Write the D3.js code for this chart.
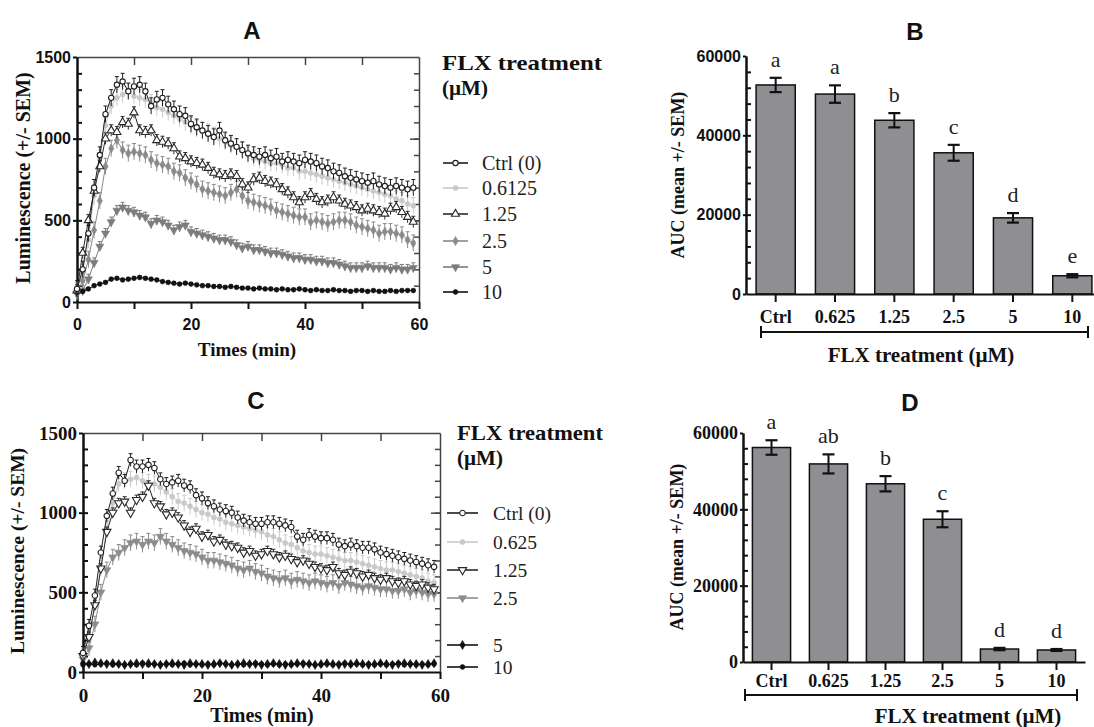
<!DOCTYPE html>
<html>
<head>
<meta charset="utf-8">
<script src="https://cdn.jsdelivr.net/npm/d3@7"></script>
<style>
  body { margin: 0; background: #fff; }
  svg { display: block; }
</style>
</head>
<body>
<svg id="fig" width="1094" height="727"></svg>
<script>
// ---- data (1 point per minute) ----
const timeMin = d3.range(0, 60);

// panel A, luminescence
const aCtrl = [80,200,420,700,900,1150,1250,1330,1350,1290, 1320,1330,1290,1200,1240,1250,1210,1180,1150,1140,
               1090,1070,1050,1030,1010,1050,990,970,950,930, 910,900,890,900,880,890,860,870,860,850,
               870,860,850,830,820,800,790,770,760,750, 740,730,740,720,710,700,710,700,690,700];
const a0612 = [70,180,380,650,880,1080,1200,1250,1270,1290, 1260,1250,1240,1220,1190,1180,1160,1140,1120,1100,
               1080,1060,1050,1040,1020,1000,980,960,950,930, 900,880,870,860,850,850,840,820,820,800,
               800,790,780,770,760,750,740,730,720,710, 700,690,680,670,660,650,630,620,600,590];
const a125  = [70,300,500,680,830,1000,1050,1040,1100,1090, 1160,1050,1040,1050,990,980,970,940,890,880,
               860,850,840,820,790,780,770,780,770,720, 700,750,760,740,730,720,690,670,640,610,
               640,660,630,610,620,640,620,600,590,580, 560,570,560,550,540,570,580,550,520,490];
const a25   = [60,130,260,440,620,830,940,990,930,910, 920,910,900,870,850,840,830,800,790,760,
               740,720,690,680,670,660,650,670,690,650, 620,610,600,590,580,560,550,540,530,520,
               520,490,500,490,480,490,500,500,490,470, 460,450,440,420,430,430,420,410,380,360];
const a5    = [50,70,140,240,340,420,490,560,580,560, 550,530,520,480,500,490,470,440,460,470,
               430,420,410,400,390,380,380,370,350,330, 340,320,320,310,300,300,290,280,270,270,
               260,260,250,250,240,240,230,220,210,210, 210,220,210,210,210,200,210,200,200,210];
const a10   = [60,65,80,100,110,120,140,145,135,140, 145,150,145,140,135,125,120,115,110,115,
               110,105,100,100,95,95,90,95,90,85, 85,80,85,80,80,75,80,75,75,80,
               75,70,75,70,70,75,70,70,65,70, 70,65,70,65,65,70,65,70,70,70];
const aSem  = [50, 50, 35, 50, 30, 8];

// panel C, luminescence
const cCtrl = [120,290,480,750,980,1120,1250,1200,1330,1290, 1290,1300,1280,1210,1180,1190,1200,1170,1160,1110,
               1090,1060,1040,1020,1010,1000,970,950,940,930, 930,940,940,930,920,910,850,830,860,850,
               840,840,830,800,790,800,790,780,780,770, 750,740,730,720,710,700,690,680,670,660];
const c0625 = [100,230,420,650,900,1060,1180,1200,1210,1220, 1200,1190,1180,1160,1130,1100,1070,1060,1040,1020,
               1000,990,970,960,940,930,920,910,900,890, 880,860,850,830,810,800,780,760,750,740,
               740,730,720,710,700,700,690,680,670,660, 650,640,640,630,620,610,600,590,570,560];
const c125  = [100,220,420,650,880,1000,1060,1070,1000,1080, 1100,1170,1060,1040,990,1000,970,920,880,900,
               850,860,820,830,800,790,780,750,760,730, 740,760,740,720,730,710,690,700,680,660,
               650,640,660,620,610,630,620,600,610,590, 580,590,570,560,570,550,540,550,530,520];
const c25   = [80,150,300,500,640,720,750,780,810,820, 800,820,810,850,820,800,780,760,750,740,
               720,700,700,690,680,670,650,640,650,630, 620,600,590,580,590,570,580,570,560,570,
               560,550,560,540,560,550,540,530,540,530, 520,520,510,510,520,500,510,500,490,490];
const c5    = [55,50,60,55,50,55,50,45,50,55, 50,55,50,45,50,55,50,45,55,50, 50,45,50,55,50,45,50,55,50,50,
               45,50,55,50,45,50,55,50,50,45, 50,55,50,45,50,50,55,50,45,50, 55,50,45,50,55,50,50,45,50,55];
const c10   = [45,50,45,50,55,45,50,45,50,45, 55,45,50,45,50,45,50,55,45,50, 45,50,45,55,50,45,50,45,50,55,
               50,45,50,45,50,45,50,55,50,45, 45,50,45,50,55,45,50,45,50,45, 50,45,50,55,45,50,45,50,45,50];
const cSem  = [40, 50, 30, 50, 6, 6];

const aLabels = ["Ctrl (0)", "0.6125", "1.25", "2.5", "5", "10"];
const cLabels = ["Ctrl (0)", "0.625", "1.25", "2.5", "5", "10"];

// panels B and D, AUC
const barCats   = ["Ctrl", "0.625", "1.25", "2.5", "5", "10"];
const bMean     = [52700, 50400, 43800, 35600, 19200, 4600];
const bSem      = [1800, 2200, 1800, 2000, 1200, 400];
const bLetters  = ["a", "a", "b", "c", "d", "e"];
const dMean     = [56200, 51900, 46700, 37400, 3400, 3150];
const dSem      = [1900, 2500, 2000, 2100, 300, 250];
const dLetters  = ["a", "ab", "b", "c", "d", "d"];

const serif = "'Liberation Serif', 'Times New Roman', serif";
const sans = "'Liberation Sans', Arial, sans-serif";

const svg = d3.select("#fig");

// marker styles per series (index matches the data order)
const styleA = [
  {color:"#1e1e1e", sym:d3.symbolCircle,   size:22, open:true,  rot:0},
  {color:"#c9c9c9", sym:d3.symbolCircle,   size:20, open:false, rot:0},
  {color:"#2a2a2a", sym:d3.symbolTriangle, size:28, open:true,  rot:0},
  {color:"#8a8a8a", sym:d3.symbolDiamond,  size:24, open:false, rot:0},
  {color:"#7c7c7c", sym:d3.symbolTriangle, size:28, open:false, rot:180},
  {color:"#111111", sym:d3.symbolCircle,   size:18, open:false, rot:0}
];
const styleC = [
  {color:"#1e1e1e", sym:d3.symbolCircle,   size:24, open:true,  rot:0},
  {color:"#c9c9c9", sym:d3.symbolCircle,   size:20, open:false, rot:0},
  {color:"#2a2a2a", sym:d3.symbolTriangle, size:30, open:true,  rot:180},
  {color:"#8c8c8c", sym:d3.symbolTriangle, size:28, open:false, rot:180},
  {color:"#111111", sym:d3.symbolDiamond,  size:24, open:false, rot:0},
  {color:"#111111", sym:d3.symbolCircle,   size:18, open:false, rot:0}
];

function styleAxis(sel, color, width) {
  sel.selectAll("path, line").attr("stroke", color).attr("stroke-width", width);
}

function marker(sel, st) {
  sel.attr("d", d3.symbol().type(st.sym).size(st.size)())
     .attr("fill", st.open ? "#fff" : st.color)
     .attr("stroke", st.color)
     .attr("stroke-width", st.open ? 1.1 : 0.6);
}

function drawTimePanel(cfg, series, sems, styles, labels, order) {
  const g = svg.append("g");
  const x = d3.scaleLinear().domain([0, 60]).range([cfg.x0, cfg.x1]);
  const y = d3.scaleLinear().domain([0, 1500]).range([cfg.yB, cfg.yT]);

  // top frame, ticks pointing down
  g.append("g").attr("transform", `translate(0,${cfg.yT})`)
    .call(d3.axisBottom(x).tickValues(d3.range(10, 60, 10)).tickSize(8).tickSizeOuter(0).tickFormat(""))
    .call(styleAxis, "#444", 1.5);
  // right frame, ticks pointing left
  g.append("g").attr("transform", `translate(${cfg.x1},0)`)
    .call(d3.axisLeft(y).tickValues(d3.range(100, 1500, 100)).tickSize(5).tickSizeOuter(0).tickFormat(""))
    .call(styleAxis, "#444", 1.5);
  g.append("g").attr("transform", `translate(${cfg.x1},0)`)
    .call(d3.axisLeft(y).tickValues([500, 1000]).tickSize(9).tickSizeOuter(0).tickFormat(""))
    .call(a => a.select(".domain").remove())
    .call(styleAxis, "#444", 1.5);

  // left axis
  g.append("g").attr("transform", `translate(${cfg.x0},0)`)
    .call(d3.axisLeft(y).tickValues(d3.range(100, 1500, 100)).tickSize(-5).tickSizeOuter(0).tickFormat(""))
    .call(styleAxis, "#111", 2);
  const yAx = g.append("g").attr("transform", `translate(${cfg.x0},0)`)
    .call(d3.axisLeft(y).tickValues([0, 500, 1000, 1500]).tickSize(4).tickSizeOuter(0)
      .tickPadding(2).tickFormat(d3.format("d")))
    .call(styleAxis, "#111", 2);
  yAx.selectAll("text").attr("font-family", cfg.tickFont).attr("font-weight", "bold")
    .attr("font-size", cfg.tickSize).attr("fill", "#111");

  // bottom axis
  const xAx = g.append("g").attr("transform", `translate(0,${cfg.yB})`)
    .call(d3.axisBottom(x).tickValues(d3.range(0, 61, 10)).tickSize(7).tickSizeOuter(0)
      .tickPadding(cfg.xPad).tickFormat(d => d % 20 === 0 ? d : ""))
    .call(styleAxis, "#111", 2);
  xAx.selectAll("text").attr("font-family", cfg.tickFont).attr("font-weight", "bold")
    .attr("font-size", cfg.tickSize).attr("fill", "#111");

  // axis titles
  g.append("text")
    .attr("transform", `translate(${cfg.yTitleX},${cfg.yTitleY}) rotate(-90)`)
    .attr("text-anchor", "middle").attr("font-family", serif).attr("font-weight", "bold")
    .attr("font-size", cfg.yTitleSize).attr("fill", "#111")
    .text("Luminescence (+/- SEM)");
  g.append("text")
    .attr("x", cfg.xTitleX).attr("y", cfg.xTitleY)
    .attr("text-anchor", "middle").attr("font-family", serif).attr("font-weight", "bold")
    .attr("font-size", cfg.xTitleSize).attr("fill", "#111")
    .text("Times (min)");

  // series
  const line = d3.line().x((d, i) => x(timeMin[i])).y(d => y(d));
  order.forEach(k => {
    const vals = series[k], st = styles[k], sem = sems[k];
    const sg = g.append("g");
    sg.append("path").attr("d", line(vals)).attr("fill", "none")
      .attr("stroke", st.color).attr("stroke-width", 1);
    const eb = sg.selectAll("g.eb").data(vals).enter().append("g");
    eb.append("line")
      .attr("x1", (d, i) => x(timeMin[i])).attr("x2", (d, i) => x(timeMin[i]))
      .attr("y1", d => y(d - sem)).attr("y2", d => y(d + sem))
      .attr("stroke", st.color).attr("stroke-width", 1);
    eb.append("line")
      .attr("x1", (d, i) => x(timeMin[i]) - 2).attr("x2", (d, i) => x(timeMin[i]) + 2)
      .attr("y1", d => y(d + sem)).attr("y2", d => y(d + sem))
      .attr("stroke", st.color).attr("stroke-width", 1);
    sg.selectAll("path.m").data(vals).enter().append("path")
      .attr("class", "m")
      .attr("transform", (d, i) => `translate(${x(timeMin[i])},${y(d)}) rotate(${st.rot})`)
      .call(marker, st);
  });

  // legend
  const lg = g.append("g");
  lg.append("text").attr("x", cfg.legX).attr("y", cfg.legTitleY)
    .attr("font-family", serif).attr("font-weight", "bold").attr("font-size", 21)
    .attr("textLength", cfg.legTitleW).attr("lengthAdjust", "spacingAndGlyphs")
    .attr("fill", "#111").text("FLX treatment");
  lg.append("text").attr("x", cfg.legX).attr("y", cfg.legTitleY + 25)
    .attr("font-family", serif).attr("font-weight", "bold").attr("font-size", 21)
    .attr("fill", "#111").text("(µM)");
  labels.forEach((lab, k) => {
    const st = styles[k], ly = cfg.legY[k];
    lg.append("line").attr("x1", cfg.legL0).attr("x2", cfg.legL1).attr("y1", ly).attr("y2", ly)
      .attr("stroke", st.color).attr("stroke-width", 1.6);
    lg.append("path")
      .attr("transform", `translate(${(cfg.legL0 + cfg.legL1) / 2},${ly}) rotate(${st.rot})`)
      .call(marker, st);
    lg.append("text").attr("x", cfg.legT).attr("y", ly + 7)
      .attr("font-family", serif).attr("font-size", cfg.legSize).attr("fill", "#222").text(lab);
  });
}

function drawBarPanel(cfg, means, sems, letters) {
  const g = svg.append("g");
  const x = d3.scaleBand().domain(barCats).range([cfg.x0, cfg.x1])
    .paddingInner(cfg.pad).paddingOuter(cfg.pad / 2);
  const y = d3.scaleLinear().domain([0, 60000]).range([cfg.yB, cfg.yT]);

  g.append("g").attr("transform", `translate(${cfg.x0},0)`)
    .call(d3.axisLeft(y).tickValues(d3.range(4000, 60000, 4000)).tickSize(-5).tickSizeOuter(0).tickFormat(""))
    .call(styleAxis, "#111", 2);
  const yAx = g.append("g").attr("transform", `translate(${cfg.x0},0)`)
    .call(d3.axisLeft(y).tickValues([0, 20000, 40000, 60000]).tickSize(3).tickSizeOuter(0)
      .tickPadding(2).tickFormat(d3.format("d")))
    .call(styleAxis, "#111", 2);
  yAx.selectAll("text").attr("font-family", cfg.tickFont).attr("font-weight", "bold")
    .attr("font-size", cfg.tickSize).attr("fill", "#111");

  // bars
  g.selectAll("rect.bar").data(means).enter().append("rect")
    .attr("x", (d, i) => x(barCats[i])).attr("width", x.bandwidth())
    .attr("y", d => y(d)).attr("height", d => cfg.yB - y(d))
    .attr("fill", "#8e8e93").attr("stroke", "#111").attr("stroke-width", 1.5);

  // error bars
  const eb = g.selectAll("g.eb").data(means).enter().append("g");
  const cx = i => x(barCats[i]) + x.bandwidth() / 2;
  eb.append("line").attr("x1", (d, i) => cx(i)).attr("x2", (d, i) => cx(i))
    .attr("y1", (d, i) => y(d - sems[i])).attr("y2", (d, i) => y(d + sems[i]))
    .attr("stroke", "#111").attr("stroke-width", 2);
  [1, -1].forEach(s => {
    eb.append("line").attr("x1", (d, i) => cx(i) - 6).attr("x2", (d, i) => cx(i) + 6)
      .attr("y1", (d, i) => y(d + s * sems[i])).attr("y2", (d, i) => y(d + s * sems[i]))
      .attr("stroke", "#111").attr("stroke-width", 2.2);
  });

  // significance letters
  g.selectAll("text.let").data(means).enter().append("text")
    .attr("x", (d, i) => cx(i)).attr("y", (d, i) => y(d + sems[i]) - 11)
    .attr("text-anchor", "middle").attr("font-family", serif).attr("font-size", 22)
    .attr("fill", "#222").text((d, i) => letters[i]);

  // x axis
  const xAx = g.append("g").attr("transform", `translate(0,${cfg.yB})`)
    .call(d3.axisBottom(x).tickSize(8).tickSizeOuter(0).tickPadding(cfg.xPad))
    .call(styleAxis, "#111", 2);
  xAx.selectAll("text").attr("font-family", serif).attr("font-weight", "bold")
    .attr("font-size", 18).attr("fill", "#111");

  // bracket under categories
  g.append("line").attr("x1", cfg.br0).attr("x2", cfg.br1).attr("y1", cfg.brY).attr("y2", cfg.brY)
    .attr("stroke", "#111").attr("stroke-width", 2);
  [cfg.br0, cfg.br1].forEach(bx => g.append("line")
    .attr("x1", bx).attr("x2", bx).attr("y1", cfg.brY - 6).attr("y2", cfg.brY + 6)
    .attr("stroke", "#111").attr("stroke-width", 2));

  g.append("text").attr("x", cfg.xTitleX).attr("y", cfg.xTitleY)
    .attr("text-anchor", "middle").attr("font-family", serif).attr("font-weight", "bold")
    .attr("font-size", 21).attr("fill", "#111").text("FLX treatment (µM)");
  g.append("text")
    .attr("transform", `translate(${cfg.yTitleX},${cfg.yTitleY}) rotate(-90)`)
    .attr("text-anchor", "middle").attr("font-family", serif).attr("font-weight", "bold")
    .attr("font-size", 18).attr("fill", "#111").text("AUC (mean +/- SEM)");
}

// panel letters
[["A", 252, 39], ["B", 915, 40], ["C", 256, 409], ["D", 910, 411]].forEach(p => {
  svg.append("text").attr("x", p[1]).attr("y", p[2]).attr("text-anchor", "middle")
    .attr("font-family", sans).attr("font-weight", "bold").attr("font-size", 24)
    .attr("fill", "#111").text(p[0]);
});

drawTimePanel({
  x0: 77, x1: 419, yB: 302, yT: 57, tickFont: sans, tickSize: 16, xPad: 10,
  yTitleX: 30, yTitleY: 178, yTitleSize: 20, xTitleX: 247, xTitleY: 356, xTitleSize: 19,
  legX: 442, legTitleY: 70, legTitleW: 160, legL0: 443, legL1: 468, legT: 482, legSize: 20,
  legY: [163, 188, 214, 241, 267, 292]
}, [aCtrl, a0612, a125, a25, a5, a10], aSem, styleA, aLabels, [1, 3, 4, 5, 2, 0]);

drawTimePanel({
  x0: 83, x1: 440, yB: 672, yT: 433, tickFont: serif, tickSize: 19, xPad: 10,
  yTitleX: 24, yTitleY: 551, yTitleSize: 19.5, xTitleX: 262, xTitleY: 722, xTitleSize: 20,
  legX: 457, legTitleY: 440, legTitleW: 146, legL0: 447, legL1: 478, legT: 493, legSize: 19.5,
  legY: [513, 542, 570, 598, 645, 667]
}, [cCtrl, c0625, c125, c25, c5, c10], cSem, styleC, cLabels, [1, 3, 4, 5, 2, 0]);

drawBarPanel({
  x0: 746, x1: 1102, pad: 0.34, yB: 294, yT: 56, tickFont: sans, tickSize: 16, xPad: 8,
  br0: 761, br1: 1088, brY: 332, xTitleX: 921, xTitleY: 362, yTitleX: 684, yTitleY: 175
}, bMean, bSem, bLetters);

drawBarPanel({
  x0: 743, x1: 1085, pad: 0.33, yB: 662, yT: 433, tickFont: serif, tickSize: 18, xPad: 4,
  br0: 745, br1: 1077, brY: 695, xTitleX: 968, xTitleY: 723, yTitleX: 683, yTitleY: 547
}, dMean, dSem, dLetters);
</script>
</body>
</html>
